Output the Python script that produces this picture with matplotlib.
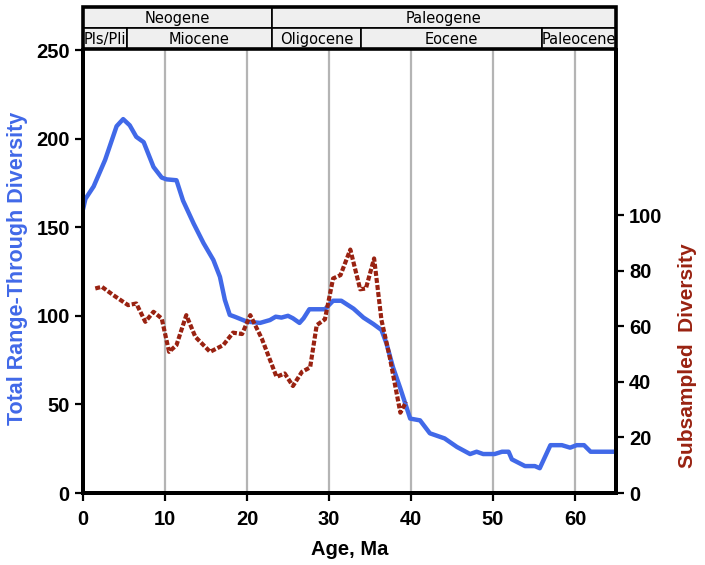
import numpy as np
import matplotlib
matplotlib.use("Agg")
import matplotlib.pyplot as plt
from matplotlib.patches import Rectangle

# total range-through diversity (left axis)
total_age = [0.0, 0.3, 1.3, 2.7, 4.1, 4.9, 5.7, 6.5, 7.4, 8.6, 9.6, 10.2, 11.4,
             12.2, 13.5, 14.7, 15.9, 16.7, 17.3, 17.9, 18.5, 20.0, 21.6, 22.8,
             23.5, 24.2, 25.0, 25.6, 26.4, 26.9, 27.6, 29.5, 30.5, 31.5, 33.0,
             34.2, 35.4, 36.4, 37.0, 37.8, 38.7, 39.9, 41.1, 42.3, 44.1, 45.6,
             47.2, 48.0, 48.8, 50.2, 51.1, 51.9, 52.3, 53.9, 55.1, 55.7, 57.0,
             58.4, 59.4, 60.2, 61.1, 61.9, 65.0]
total_div = [160, 166, 173, 188, 207, 211, 207.5, 201, 198, 184, 178, 177, 176.5,
             165, 152, 141, 131.5, 122, 109, 100.5, 99.5, 96.7, 96, 97.6,
             99.5, 99, 100, 98.6, 96, 98.6, 103.7, 103.7, 108.5, 108.5, 104,
             99, 95.4, 92, 84.5, 71, 59, 42, 41, 33.7, 30.8, 26,
             22, 23.3, 22, 22, 23.3, 23.3, 19, 15.2, 15.2, 14, 27,
             27, 25.6, 27, 27, 23.3, 23.3]

# subsampled diversity (right axis)
sub_age = [1.5, 2.3, 3.7, 5.5, 6.5, 7.6, 8.6, 9.6, 10.5, 11.4, 12.6, 13.7, 15.5,
           17.1, 18.3, 19.4, 20.4, 21.8, 23.6, 24.6, 25.6, 26.7, 27.7, 28.5,
           29.5, 30.5, 31.4, 32.6, 33.8, 34.5, 35.5, 36.4, 37.4, 38.7, 39.4]
sub_div = [73.6, 74.2, 71.2, 67.6, 68.2, 61.6, 65.2, 62.8, 50.8, 53.2, 64, 56.2, 50.8,
           53.2, 57.7, 57.2, 64, 55.6, 41.8, 43, 38.5, 43.6, 45.2, 60.4,
           62.5, 77.2, 78.4, 87.6, 73.3, 73.6, 84.4, 62.2, 49, 28.9, 32.8]

# time scale
periods = [("Neogene", 0, 23.03), ("Paleogene", 23.03, 65)]
epochs = [("Pls/Pli", 0, 5.33), ("Miocene", 5.33, 23.03), ("Oligocene", 23.03, 33.9),
          ("Eocene", 33.9, 56), ("Paleocene", 56, 65)]

blue = "#4169e8"
red = "#992211"

plt.rcParams['font.family'] = ['Liberation Sans', 'DejaVu Sans']

fig = plt.figure(figsize=(7.05, 5.65), dpi=100)
ax = fig.add_axes([0.1177, 0.1274, 0.7561, 0.7841])
ax2 = ax.twinx()

for x in range(10, 70, 10):
    ax.axvline(x, color="#b4b4b4", lw=1.6, zorder=0)

ax.plot(total_age, total_div, color=blue, lw=3.2, solid_capstyle="butt", zorder=3)
ax2.plot(sub_age, sub_div, color=red, lw=3.0, linestyle=(0, (1.2, 0.5)),
         dash_capstyle="butt", zorder=3)

ax.set_xlim(0, 65)
ax.set_ylim(0, 250)
ax2.set_ylim(0, 159.4)
ax.set_xticks(range(0, 70, 10))
ax.set_yticks(range(0, 300, 50))
ax2.set_yticks(range(0, 120, 20))

for a in (ax, ax2):
    for s in a.spines.values():
        s.set_linewidth(2.8)
    a.spines['top'].set_visible(False)
    a.tick_params(width=1.6, length=6, labelsize=14.5)
    for lab in a.get_xticklabels() + a.get_yticklabels():
        lab.set_fontweight("bold")
ax.tick_params(axis="x", pad=6)

ax.set_xlabel("Age, Ma", fontsize=14.5, fontweight="bold", labelpad=8)
ax.set_ylabel("Total Range-Through Diversity", fontsize=15.5, fontweight="bold",
              color=blue)
ax.yaxis.set_label_coords(-0.103, 0.508)
ax2.set_ylabel("Subsampled  Diversity", fontsize=15, fontweight="bold",
               color=red)
ax2.yaxis.set_label_coords(1.116, 0.311)

# time scale band above the plot
band = fig.add_axes([0.1177, 0.9133, 0.7561, 0.0743])
band.set_xlim(0, 65)
band.set_ylim(0, 2)
band.axis("off")
for name, x0, x1 in periods:
    band.add_patch(Rectangle((x0, 1), x1 - x0, 1, facecolor="#efefef",
                             edgecolor="black", lw=1.2))
    band.text((x0 + x1) / 2, 1.45, name, ha="center", va="center", fontsize=10.5,
              family="DejaVu Sans")
for name, x0, x1 in epochs:
    band.add_patch(Rectangle((x0, 0), x1 - x0, 1, facecolor="#efefef",
                             edgecolor="black", lw=1.2))
    band.text((x0 + x1) / 2, 0.45, name, ha="center", va="center", fontsize=10.5,
              family="DejaVu Sans")
band.add_patch(Rectangle((0, 0), 65, 2, facecolor="none", edgecolor="black",
                         lw=2.6, clip_on=False))

fig.savefig("out.png", dpi=100)
